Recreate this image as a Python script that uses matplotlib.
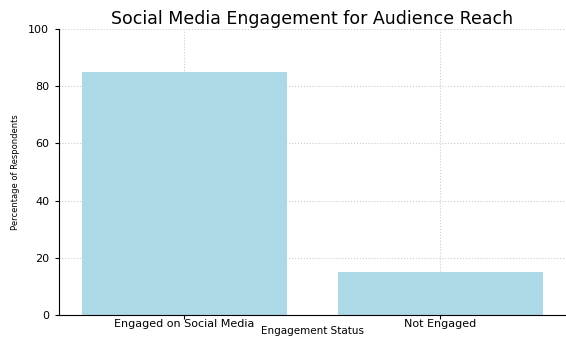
import matplotlib
matplotlib.use("Agg")
import matplotlib.pyplot as plt

categories = ["Engaged on Social Media", "Not Engaged"]
percentages = [85, 15]

fig = plt.figure(figsize=(5.66, 3.38), dpi=100)
ax = fig.add_axes([0.104, 0.068, 0.896, 0.846])
ax.bar(categories, percentages, color="lightblue", width=0.8, zorder=2)
ax.set_ylim(0, 100)
ax.set_xlim(-0.49, 1.49)
ax.set_title("Social Media Engagement for Audience Reach", fontsize=12.5, pad=4)
ax.set_xlabel("Engagement Status", fontsize=7.5)
ax.xaxis.set_label_coords(0.5, -0.04)
ax.set_ylabel("Percentage of Respondents", fontsize=6, labelpad=6)
ax.tick_params(axis="x", labelsize=8, length=3, pad=0)
ax.tick_params(axis="y", labelsize=8, length=3, pad=4)
ax.grid(True, linestyle=":", color="#cccccc", linewidth=0.8, zorder=0)
ax.spines["top"].set_visible(False)
ax.spines["right"].set_visible(False)

fig.savefig("out.png", dpi=100)
